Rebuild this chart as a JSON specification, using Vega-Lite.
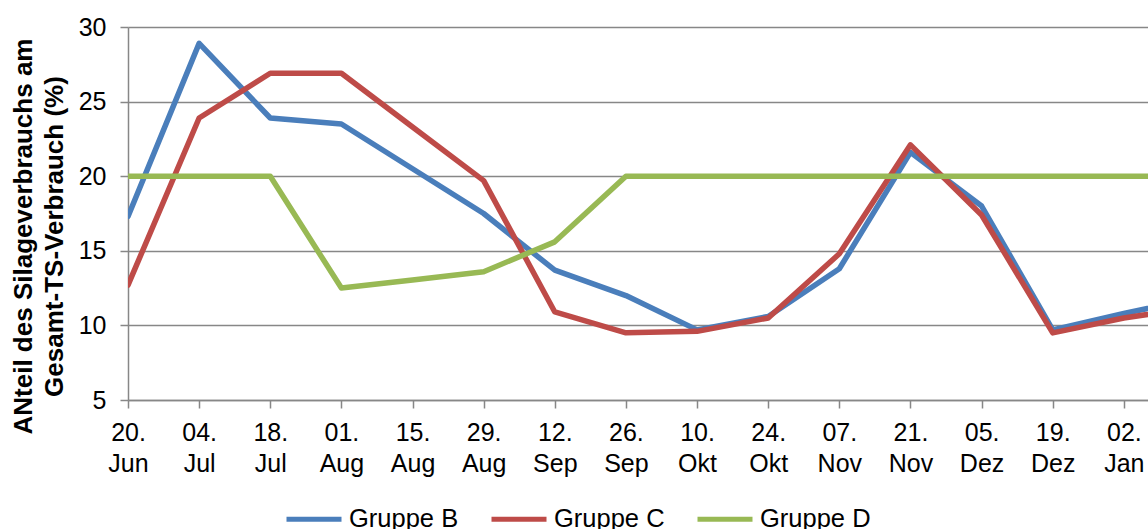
{
  "$schema": "https://vega.github.io/schema/vega-lite/v6.json",
  "width": 1020,
  "height": 373,
  "autosize": "none",
  "padding": {"left": 128, "top": 27, "right": 0, "bottom": 129},
  "background": "white",
  "config": {
    "font": "Liberation Sans",
    "view": {"stroke": null},
    "axis": {"labelColor": "black", "titleColor": "black", "domainColor": "#878787", "tickColor": "#878787", "gridColor": "#878787", "domainWidth": 1.5, "tickWidth": 1.5, "gridWidth": 1.5}
  },
  "data": {
    "values": [
      {"datum": "20. Jun", "gruppe": "Gruppe B", "wert": 17.3},
      {"datum": "04. Jul", "gruppe": "Gruppe B", "wert": 28.9},
      {"datum": "18. Jul", "gruppe": "Gruppe B", "wert": 23.9},
      {"datum": "01. Aug", "gruppe": "Gruppe B", "wert": 23.5},
      {"datum": "15. Aug", "gruppe": "Gruppe B", "wert": 20.5},
      {"datum": "29. Aug", "gruppe": "Gruppe B", "wert": 17.5},
      {"datum": "12. Sep", "gruppe": "Gruppe B", "wert": 13.7},
      {"datum": "26. Sep", "gruppe": "Gruppe B", "wert": 12.0},
      {"datum": "10. Okt", "gruppe": "Gruppe B", "wert": 9.7},
      {"datum": "24. Okt", "gruppe": "Gruppe B", "wert": 10.6},
      {"datum": "07. Nov", "gruppe": "Gruppe B", "wert": 13.8},
      {"datum": "21. Nov", "gruppe": "Gruppe B", "wert": 21.6},
      {"datum": "05. Dez", "gruppe": "Gruppe B", "wert": 18.0},
      {"datum": "19. Dez", "gruppe": "Gruppe B", "wert": 9.7},
      {"datum": "02. Jan", "gruppe": "Gruppe B", "wert": 10.8},
      {"datum": "16. Jan", "gruppe": "Gruppe B", "wert": 11.8},
      {"datum": "20. Jun", "gruppe": "Gruppe C", "wert": 12.7},
      {"datum": "04. Jul", "gruppe": "Gruppe C", "wert": 23.9},
      {"datum": "18. Jul", "gruppe": "Gruppe C", "wert": 26.9},
      {"datum": "01. Aug", "gruppe": "Gruppe C", "wert": 26.9},
      {"datum": "15. Aug", "gruppe": "Gruppe C", "wert": 23.3},
      {"datum": "29. Aug", "gruppe": "Gruppe C", "wert": 19.7},
      {"datum": "12. Sep", "gruppe": "Gruppe C", "wert": 10.9},
      {"datum": "26. Sep", "gruppe": "Gruppe C", "wert": 9.5},
      {"datum": "10. Okt", "gruppe": "Gruppe C", "wert": 9.6},
      {"datum": "24. Okt", "gruppe": "Gruppe C", "wert": 10.5},
      {"datum": "07. Nov", "gruppe": "Gruppe C", "wert": 14.8},
      {"datum": "21. Nov", "gruppe": "Gruppe C", "wert": 22.1},
      {"datum": "05. Dez", "gruppe": "Gruppe C", "wert": 17.4},
      {"datum": "19. Dez", "gruppe": "Gruppe C", "wert": 9.5},
      {"datum": "02. Jan", "gruppe": "Gruppe C", "wert": 10.5},
      {"datum": "16. Jan", "gruppe": "Gruppe C", "wert": 11.2},
      {"datum": "20. Jun", "gruppe": "Gruppe D", "wert": 20.0},
      {"datum": "04. Jul", "gruppe": "Gruppe D", "wert": 20.0},
      {"datum": "18. Jul", "gruppe": "Gruppe D", "wert": 20.0},
      {"datum": "01. Aug", "gruppe": "Gruppe D", "wert": 12.5},
      {"datum": "15. Aug", "gruppe": "Gruppe D", "wert": 13.05},
      {"datum": "29. Aug", "gruppe": "Gruppe D", "wert": 13.6},
      {"datum": "12. Sep", "gruppe": "Gruppe D", "wert": 15.6},
      {"datum": "26. Sep", "gruppe": "Gruppe D", "wert": 20.0},
      {"datum": "10. Okt", "gruppe": "Gruppe D", "wert": 20.0},
      {"datum": "24. Okt", "gruppe": "Gruppe D", "wert": 20.0},
      {"datum": "07. Nov", "gruppe": "Gruppe D", "wert": 20.0},
      {"datum": "21. Nov", "gruppe": "Gruppe D", "wert": 20.0},
      {"datum": "05. Dez", "gruppe": "Gruppe D", "wert": 20.0},
      {"datum": "19. Dez", "gruppe": "Gruppe D", "wert": 20.0},
      {"datum": "02. Jan", "gruppe": "Gruppe D", "wert": 20.0},
      {"datum": "16. Jan", "gruppe": "Gruppe D", "wert": 20.0}
    ]
  },
  "mark": {"type": "line", "strokeWidth": 5.5, "strokeCap": "round", "strokeJoin": "round", "clip": true},
  "encoding": {
    "x": {
      "field": "datum",
      "type": "ordinal",
      "sort": ["20. Jun","04. Jul","18. Jul","01. Aug","15. Aug","29. Aug","12. Sep","26. Sep","10. Okt","24. Okt","07. Nov","21. Nov","05. Dez","19. Dez","02. Jan","16. Jan"],
      "scale": {"type": "point", "padding": 0, "range": [0, 1067]},
      "axis": {
        "title": null,
        "labelAngle": 0,
        "labelExpr": "split(datum.label, ' ')",
        "labelFontSize": 25,
        "labelLineHeight": 31,
        "labelPadding": 12,
        "tickSize": 8,
        "labelOverlap": false,
        "grid": false
      }
    },
    "y": {
      "field": "wert",
      "type": "quantitative",
      "scale": {"domain": [5, 30], "nice": false, "zero": false},
      "axis": {
        "values": [5, 10, 15, 20, 25, 30],
        "title": ["ANteil des Silageverbrauchs am", "Gesamt-TS-Verbrauch (%)"],
        "titleFontSize": 26,
        "titleFontWeight": "bold",
        "titleLineHeight": 31,
        "titlePadding": 11,
        "titleY": 209,
        "labelFontSize": 25,
        "labelPadding": 14,
        "tickSize": 8,
        "grid": true
      }
    },
    "color": {
      "field": "gruppe",
      "type": "nominal",
      "scale": {"domain": ["Gruppe B", "Gruppe C", "Gruppe D"], "range": ["#4A7EBB", "#BE4B48", "#98B954"]},
      "legend": {
        "title": null,
        "orient": "none",
        "legendX": 156,
        "legendY": 462,
        "direction": "horizontal",
        "symbolType": "stroke",
        "symbolSize": 3025,
        "symbolStrokeWidth": 5,
        "labelFontSize": 25.5,
        "labelColor": "black",
        "labelOffset": 5,
        "columnPadding": 22
      }
    }
  }
}
